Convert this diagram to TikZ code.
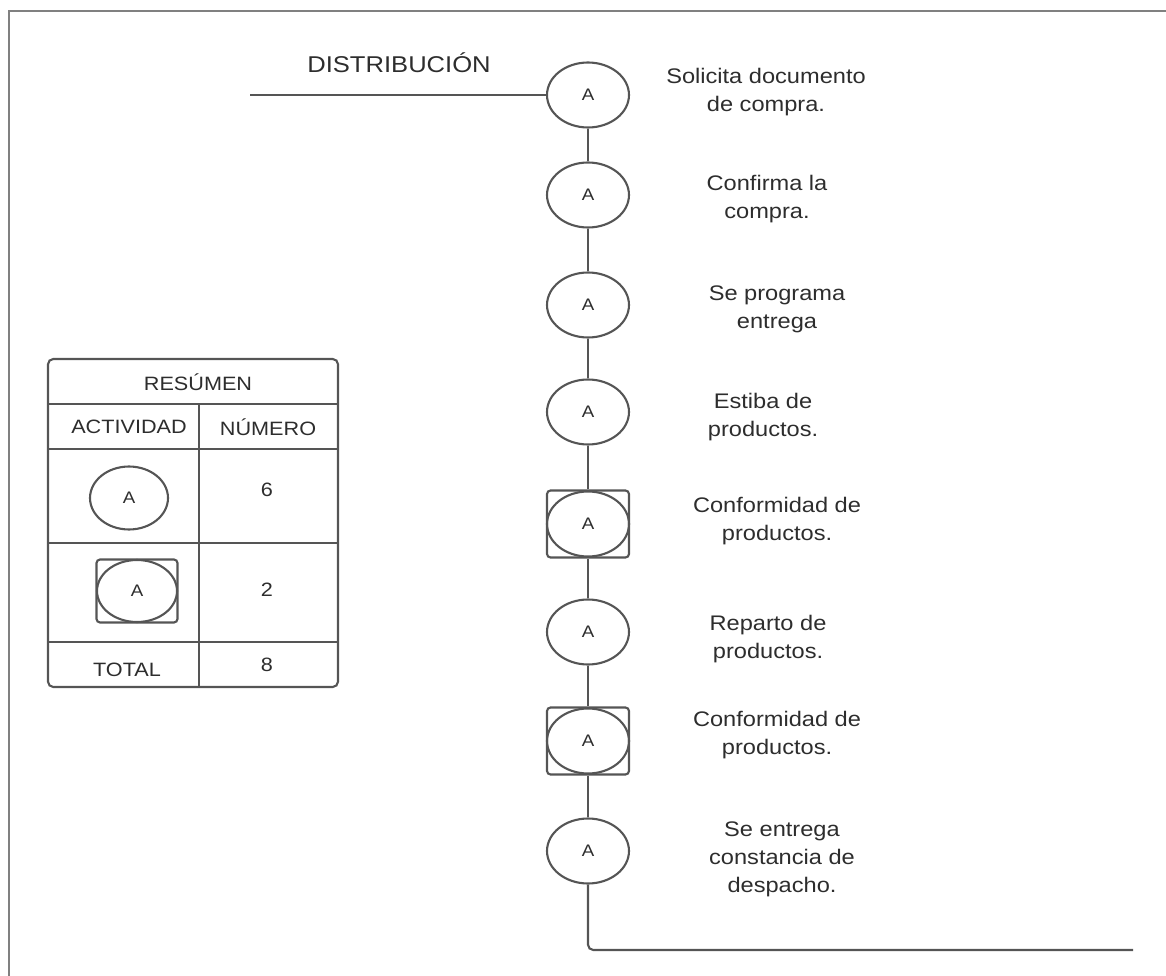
\documentclass[tikz,border=0pt]{standalone}
\usepackage{fontspec}
\setmainfont{Liberation Sans}[FakeStretch=1.12]
\usepackage{tikz}
\usetikzlibrary{positioning,shapes.geometric}
\definecolor{linegray}{RGB}{85,85,85}
\definecolor{textgray}{RGB}{45,45,45}
\definecolor{framegray}{RGB}{128,128,128}
\tikzset{
  act/.style      = {ellipse,draw=linegray,line width=1.2pt,minimum width=1.64cm,
                     minimum height=1.3cm,inner sep=0pt,text=textgray,
                     font=\fontsize{9.5}{11}\selectfont},
  actbox/.style   = {rectangle,draw=linegray,line width=1.2pt,rounded corners=2pt,
                     minimum width=1.64cm,minimum height=1.34cm,inner sep=0pt},
  desc/.style     = {align=center,inner sep=0pt,text=textgray,
                     font=\fontsize{12}{15.9}\selectfont},
  cell/.style     = {inner sep=0pt,text=textgray,font=\fontsize{11}{13}\selectfont},
  conn/.style     = {draw=linegray,line width=1.2pt},
  frame/.style    = {draw=framegray,line width=1.2pt}
}
\newcommand{\DrawPaso}[4]{%
  % draws the activity circle
  \node[act]  (#1)    at (588,#2) {A};
  % writes the description at the right
  \node[desc] (#1txt) at #3 {#4};
}
\newcommand{\DrawPasoBox}[4]{%
  % draws the square round the circle (inspection)
  \node[actbox] (#1box) at (588,#2) {};
  \DrawPaso{#1}{#2}{#3}{#4}
}

\begin{document}
\begin{tikzpicture}[x=0.02cm,y=-0.02cm]
    \useasboundingbox (0,0) rectangle (1166,976);
    \draw[frame] (1166,11) -- (9,11) -- (9,976);

    % process title
    \node[desc,font=\fontsize{13}{15}\selectfont] (titulo) at (399,63) {DISTRIBUCIÓN};
    \coordinate (inicio) at (250,95);

    \DrawPaso{p1}{95}{(766,92)}{Solicita documento\\de compra.}
    \DrawPaso{p2}{195}{(767,199)}{Confirma la\\compra.}
    \DrawPaso{p3}{305}{(777,309)}{Se programa\\entrega}
    \DrawPaso{p4}{412}{(763,417)}{Estiba de\\productos.}
    \DrawPasoBox{p5}{524}{(777,521)}{Conformidad de\\productos.}
    \DrawPaso{p6}{632}{(768,639)}{Reparto de\\productos.}
    \DrawPasoBox{p7}{741}{(777,735)}{Conformidad de\\productos.}
    \DrawPaso{p8}{851}{(782,859)}{Se entrega\\constancia de\\despacho.}
    \coordinate (fin) at (1133,950);

    % connectors
    \draw[conn] (inicio) -- (p1);
    \draw[conn] (p1) -- (p2);
    \draw[conn] (p2) -- (p3);
    \draw[conn] (p3) -- (p4);
    \draw[conn] (p4) -- (p5box);
    \draw[conn] (p5box) -- (p6);
    \draw[conn] (p6) -- (p7box);
    \draw[conn] (p7box) -- (p8);
    \draw[conn,rounded corners=3pt] (p8.south) |- (fin);

    % summary table
    \draw[conn,rounded corners=3pt] (48,359) rectangle (338,687);
    \draw[conn] (48,404) -- (338,404);
    \draw[conn] (48,449) -- (338,449);
    \draw[conn] (48,543) -- (338,543);
    \draw[conn] (48,642) -- (338,642);
    \draw[conn] (199,404) -- (199,687);
    \node[cell] (resumen)   at (198,382) {RESÚMEN};
    \node[cell] (actividad) at (129,427) {ACTIVIDAD};
    \node[cell] (numero)    at (268,427) {NÚMERO};
    \node[act,minimum width=1.56cm,minimum height=1.26cm] (tcirc) at (129,498) {A};
    \node[cell] (ncirc) at (267,490) {6};
    \node[actbox,minimum width=1.62cm,minimum height=1.26cm] (tbox) at (137,591) {};
    \node[act,minimum width=1.6cm,minimum height=1.24cm] (tinsp) at (137,591) {A};
    \node[cell] (ninsp) at (267,590) {2};
    \node[cell] (total)  at (127,670) {TOTAL};
    \node[cell] (ntotal) at (267,665) {8};
\end{tikzpicture}
\end{document}
